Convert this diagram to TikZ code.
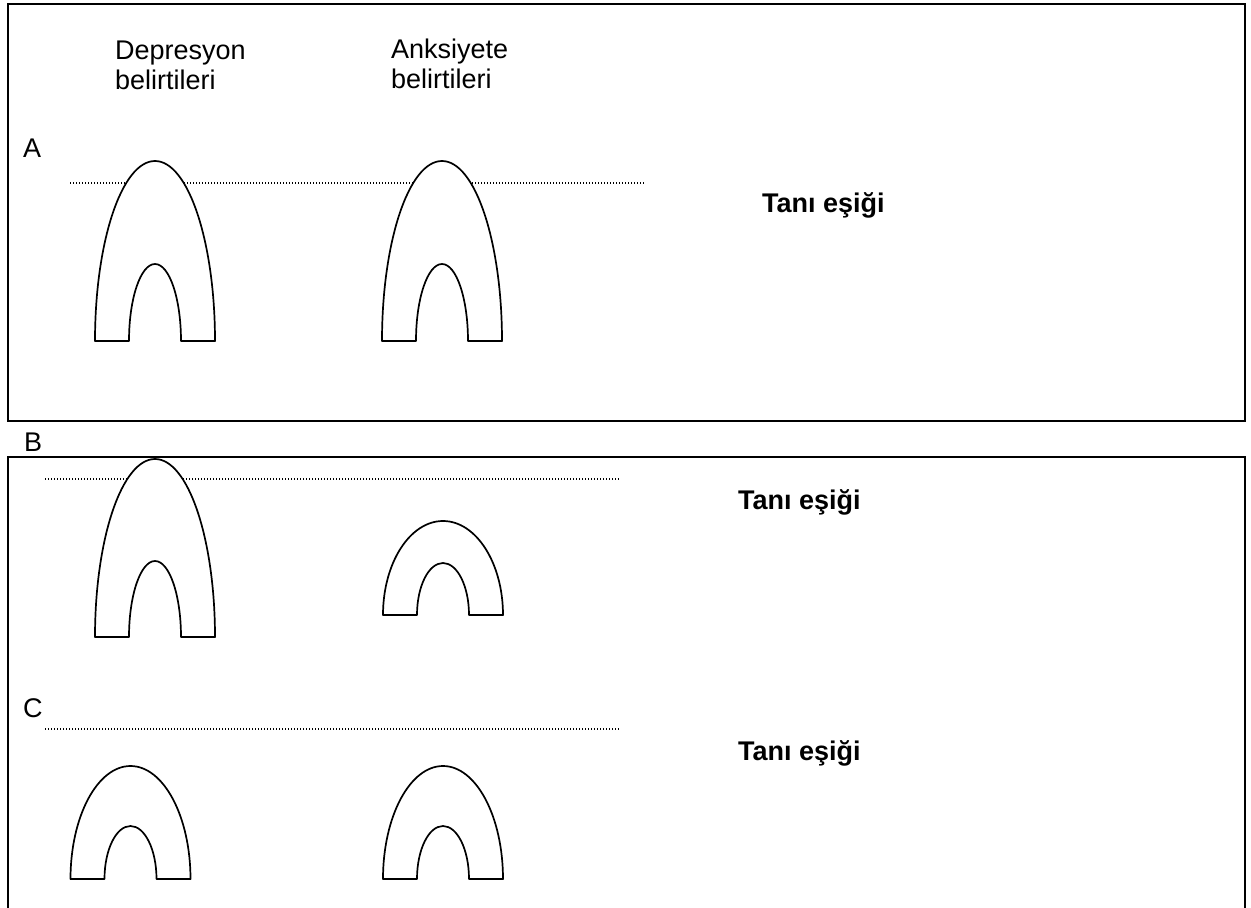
\documentclass[tikz,border=0pt]{standalone}
\usepackage{fontspec}
\setmainfont{Liberation Sans}
\newcommand{\myarch}[4]{%
  \draw[archline] ({#1-60},#2) arc[start angle=180,end angle=0,x radius=60pt,y radius=#3pt]
    -- ({#1+26},#2) arc[start angle=0,end angle=180,x radius=26pt,y radius=#4pt] -- cycle;}
\begin{document}
\begin{tikzpicture}[x=1pt,y=-1pt,
  frame/.style={line width=2.4pt},
  archline/.style={line width=1.7pt,fill=white,line join=round},
  threshold/.style={line width=1.1pt,dash pattern=on 1pt off 2pt},
  lbl/.style={font=\fontsize{27}{30}\selectfont,inner sep=0pt,align=left},
  boldlbl/.style={font=\fontsize{27}{30}\selectfont\bfseries,inner sep=0pt}]
\useasboundingbox (0,0) rectangle (1251,908);
% frames
\draw[frame] (8,4) rectangle (1245,421);
\draw[frame] (8,908) -- (8,457) -- (1245,457) -- (1245,908);
% headers
\node[lbl,anchor=north west] (dep) at (115,41) {Depresyon\\belirtileri};
\node[lbl,anchor=north west] (anx) at (391,39) {Anksiyete\\belirtileri};
% panel letters
\node[lbl,anchor=base west] (la) at (23,157) {A};
\node[lbl,anchor=base west] (lb) at (24,451) {B};
\node[lbl,anchor=base west] (lc) at (23,717) {C};
% thresholds
\draw[threshold] (70,183) -- (645,183);
\draw[threshold] (45,479) -- (620,479);
\draw[threshold] (45,729) -- (620,729);
\node[boldlbl,anchor=base west] (ta) at (762,212) {Tanı eşiği};
\node[boldlbl,anchor=base west] (tb) at (738,509) {Tanı eşiği};
\node[boldlbl,anchor=base west] (tc) at (738,760) {Tanı eşiği};
% arches
\myarch{155}{341}{180}{77}
\myarch{442}{341}{180}{77}
\myarch{155}{637}{178}{76}
\myarch{443}{615}{94}{52}
\myarch{130.5}{879}{113}{53}
\myarch{443}{879}{113}{53}
\end{tikzpicture}
\end{document}
